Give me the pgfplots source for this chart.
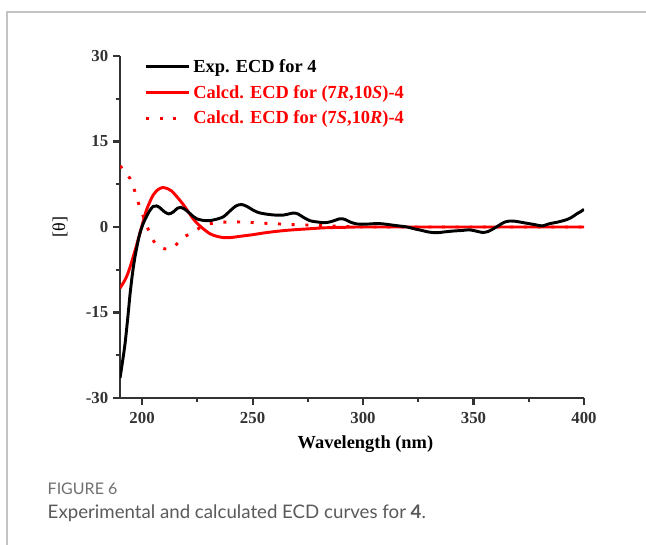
\documentclass[border=0pt]{standalone}
\usepackage{pgfplots}
\pgfplotsset{compat=1.18}
\usepackage{fontspec}
\setmainfont{Liberation Serif}
\newfontfamily\lato{Lato}
\definecolor{axgray}{HTML}{333333}
\definecolor{framegray}{HTML}{C4C4C4}
\definecolor{capgray}{HTML}{5A5A5A}
\definecolor{figgray}{HTML}{707070}
\pgfplotsset{
  longlegend/.style={legend image code/.code={\draw[##1] (0pt,0pt) -- (32.5pt,0pt);}},
  shortlegend/.style={legend image code/.code={\draw[##1] (0pt,0pt) -- (24pt,0pt);}},
}
\begin{document}
\begin{tikzpicture}
\path[use as bounding box, fill=white] (0,0) rectangle (484.5pt,408pt);
\draw[framegray, line width=1.5pt] (5.25pt,-2pt) -- (5.25pt,399pt) -- (490pt,399pt);
\node[anchor=base west, text=figgray, font=\lato\fontsize{12}{14}\selectfont] at (32.25pt,37pt) {FIGURE 6};
\node[anchor=base west, text=capgray, font=\lato\fontsize{14}{16}\selectfont] at (32.25pt,19pt) {Experimental and calculated ECD curves for \textbf{4}.};
\begin{axis}[
  at={(90pt,109.5pt)}, anchor=south west,
  scale only axis, width=348pt, height=256.5pt,
  xmin=190, xmax=400, ymin=-30, ymax=30,
  axis lines=left,
  axis line style={-, line width=1.6pt, color=axgray},
  every tick/.style={line width=1.6pt, color=axgray},
  tick align=outside,
  major tick length=5.25pt, minor tick length=3pt,
  xtick={200,250,300,350,400}, ytick={-30,-15,0,15,30},
  minor x tick num=1, minor y tick num=1,
  /pgf/number format/assume math mode=true,
  tick label style={font=\fontsize{12.6}{14}\selectfont\bfseries, text=axgray},
  xticklabel style={yshift=-2pt},
  xlabel={\textbf{Wavelength (nm)}},
  ylabel={[θ]},
  xlabel style={at={(axis description cs:0.529,-0.1345)}, anchor=center, font=\fontsize{13.8}{16}\selectfont},
  ylabel style={at={(axis description cs:-0.1293,0.5)}, anchor=center, font=\fontsize{13.5}{16}\selectfont},
  legend style={at={(axis description cs:0.052,1.0)}, anchor=north west, draw=none, fill=none,
    font=\fontsize{13.8}{16}\selectfont\bfseries, inner sep=0pt, row sep=4.1pt, yshift=-0.3pt,
    nodes={inner sep=2pt}},
  legend cell align=left,
  reverse legend,
  longlegend,
]
\addplot[red, line width=2.2pt, dash pattern=on 2.25pt off 8pt, smooth, tension=0.5, shortlegend] coordinates {
(190,10.7) (191.5,10.1) (192.8,9.3) (194.6,8.5) (196,7.0) (196.8,6.2) (198.5,4.0)
(200.6,1.8) (202,0.3) (203.6,-1.1) (205,-2.3) (206.6,-3.2) (209,-3.7) (212,-3.9)
(214.5,-3.5) (217,-2.4) (219.5,-1.6) (222.4,-1.1) (225,-0.4) (227.7,0.2) (230.5,0.55)
(233.7,0.75) (237,0.85) (241.3,0.9) (246,0.85) (251.9,0.75) (258,0.6) (264,0.5)
(270,0.4) (279,0.3) (287,0.15) (294,0.05) (300,0) (350,0) (400,0)};
\addlegendentry{\textcolor{red}{Calcd. ECD for (7\textit{S},10\textit{R})-4}}
\addplot[red, line width=2.2pt, smooth, tension=0.5] coordinates {
(190,-10.7) (191.5,-9.8) (193,-8.7) (194.5,-7.1) (196,-5.2) (197.5,-3.2) (199,-1.1)
(200.5,1.0) (202,3.0) (203.5,4.4) (205,5.6) (207,6.5) (209,6.9) (211,6.8) (213.4,6.3)
(216,5.2) (218.7,3.9) (221,2.6) (223,1.5) (224.8,0.7) (227,-0.1) (230.8,-1.2)
(234,-1.65) (236.8,-1.85) (240,-1.85) (245,-1.6) (250,-1.35) (255,-1.05) (260,-0.8)
(265,-0.6) (270,-0.45) (276,-0.3) (282,-0.15) (288,-0.08) (295,-0.03) (300,0) (350,0) (400,0)};
\addlegendentry{\textcolor{red}{Calcd. ECD for (7\textit{R},10\textit{S})-4}}
\addplot[black, line width=2.2pt, smooth, tension=0.5] coordinates {
(190,-26.5) (191,-24) (192.3,-20.4) (193.5,-16) (194.6,-11.6) (195.7,-8) (196.8,-5.2)
(198,-2.8) (199,-1.1) (200.5,0.6) (202,1.85) (203.5,2.9) (205,3.6) (206.5,3.7) (208,3.4)
(210,2.7) (212,2.3) (214,2.6) (216,3.3) (217.5,3.45) (219,3.2) (221,2.6) (223,1.9)
(225,1.4) (227,1.2) (230,1.1) (233,1.3) (236.8,1.8) (240,2.9) (242.5,3.7) (245,3.95)
(247.5,3.6) (250.5,2.9) (253,2.5) (256.4,2.25) (260,2.1) (264,2.1) (266.5,2.3)
(268.5,2.45) (270.5,2.3) (273,1.7) (276,1.1) (279,0.9) (282.8,0.75) (286,1.0)
(289.6,1.45) (292,1.3) (294,0.9) (297,0.55) (301,0.5) (306,0.6) (309,0.55) (312,0.4)
(316,0.2) (320,0) (323,-0.3) (326,-0.55) (330,-0.9) (333.5,-1.0) (337,-0.85) (341,-0.7)
(345,-0.6) (348,-0.5) (351,-0.7) (354,-0.95) (356.5,-0.8) (359,-0.3) (362,0.4)
(364,0.85) (366.5,1.05) (369,1.0) (372,0.8) (375,0.6) (378,0.4) (381,0.2) (384.6,0.6)
(388,0.85) (391.4,1.2) (394,1.6) (396.7,2.3) (398.5,2.7) (400,3.1)};
\addlegendentry{Exp. ECD for 4}
\end{axis}
\end{tikzpicture}
\end{document}
